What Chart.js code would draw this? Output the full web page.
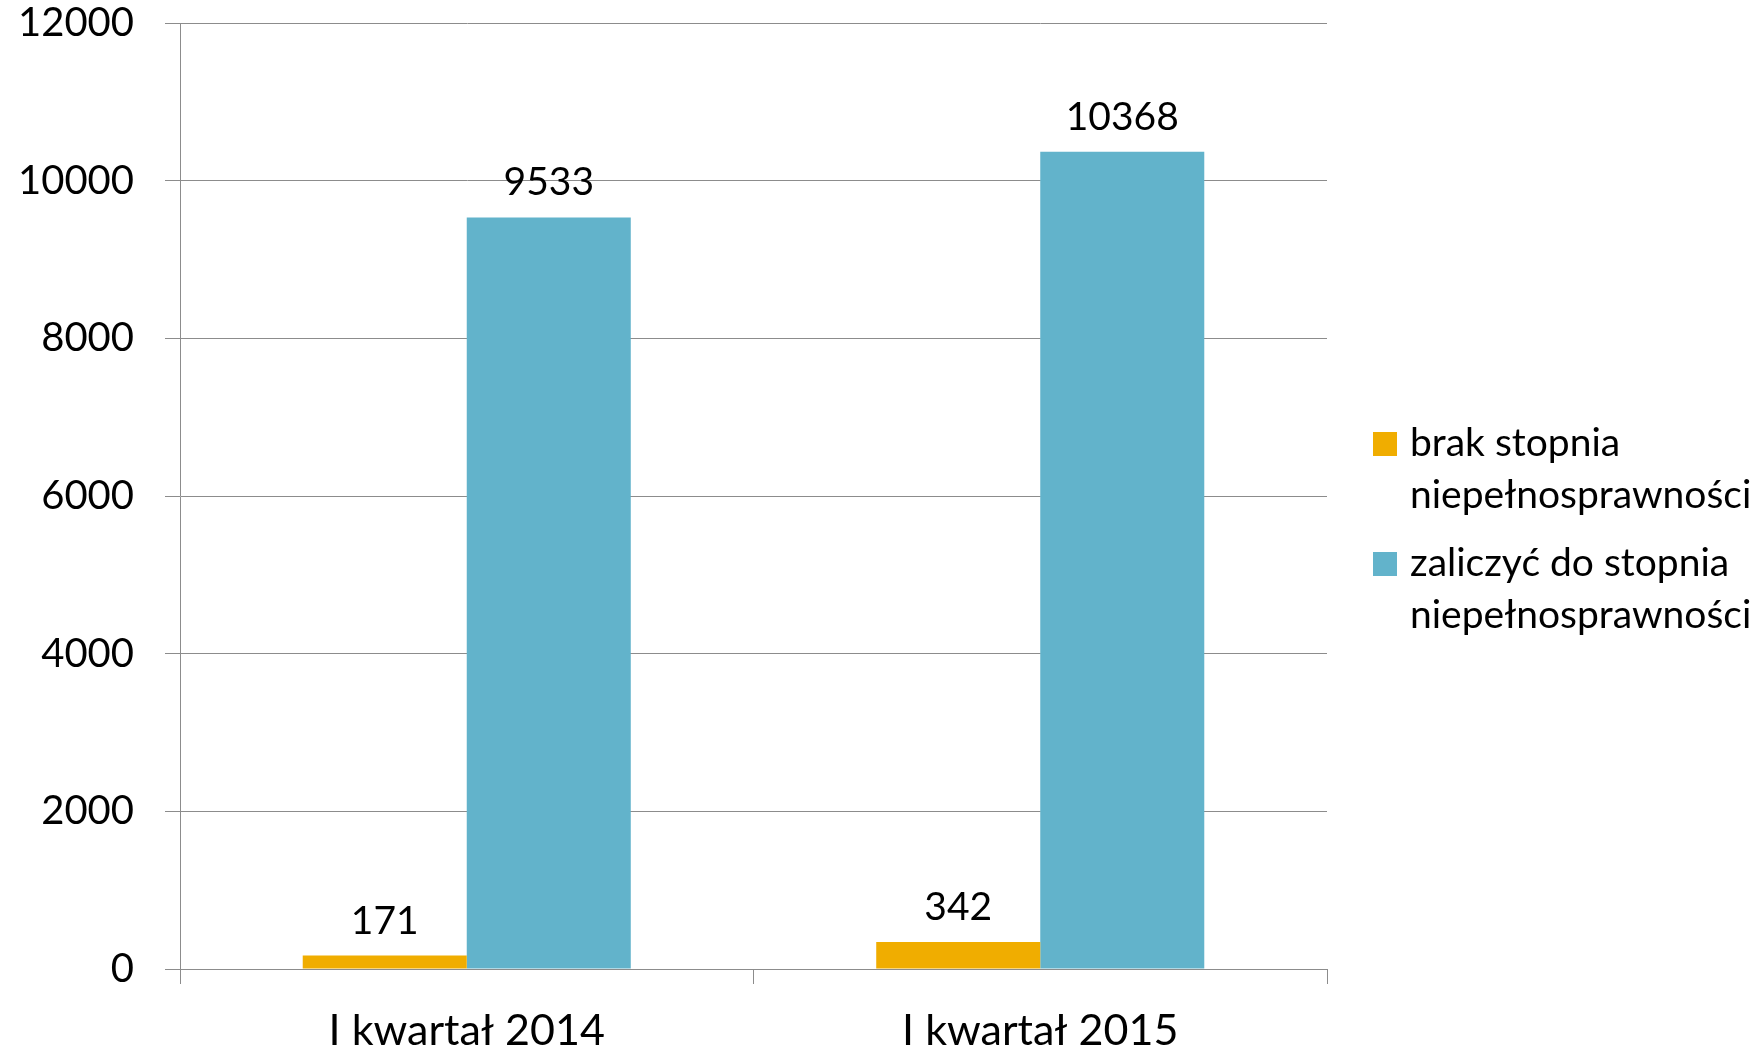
<!DOCTYPE html>
<html>
<head>
<meta charset="utf-8">
<script src="https://cdn.jsdelivr.net/npm/chart.js@4.4.0/dist/chart.umd.min.js"></script>
<style>
  html, body { margin: 0; padding: 0; background: #fff; }
  #wrap { width: 1763px; height: 1054px; position: relative; }
</style>
</head>
<body>
<div id="wrap"><canvas id="chart"></canvas></div>
<script>
// dane z wykresu
const kategorie = ['I kwartał 2014', 'I kwartał 2015'];
const brakStopnia = [171, 342];
const zaliczycDoStopnia = [9533, 10368];
const etykietySerii = [
    ['brak stopnia', 'niepełnosprawności'],
    ['zaliczyć do stopnia', 'niepełnosprawności']
];
const kolory = ['#F0AD00', '#62B3CB'];

const FONT = 'Lato, "Open Sans", sans-serif';

// etykiety wartości nad słupkami
const wartosciPlugin = {
    id: 'wartosci',
    afterDatasetsDraw(chart) {
        const ctx = chart.ctx;
        ctx.save();
        ctx.font = '39px ' + FONT;
        ctx.fillStyle = '#000';
        ctx.textAlign = 'center';
        ctx.textBaseline = 'alphabetic';
        chart.data.datasets.forEach((ds, i) => {
            const meta = chart.getDatasetMeta(i);
            meta.data.forEach((bar, j) => {
                ctx.fillText(String(ds.data[j]), bar.x, bar.y - 22);
            });
        });
        ctx.restore();
    }
};

// legenda po prawej, w dwóch liniach
const legendaPlugin = {
    id: 'legenda',
    afterDraw(chart) {
        const ctx = chart.ctx;
        const area = chart.chartArea;
        const x0 = area.right + 46;
        let baseline = area.top + 433;
        ctx.save();
        ctx.font = '39px ' + FONT;
        ctx.textBaseline = 'alphabetic';
        ctx.textAlign = 'left';
        chart.data.datasets.forEach((ds, i) => {
            ctx.fillStyle = ds.backgroundColor;
            ctx.fillRect(x0, baseline - 24, 24, 24);
            ctx.fillStyle = '#000';
            ds.label.forEach((line, k) => {
                ctx.fillText(line, x0 + 37, baseline + k * 52);
            });
            baseline += 52 + 68;
        });
        ctx.restore();
    }
};

const ctx = document.getElementById('chart');
new Chart(ctx, {
    type: 'bar',
    data: {
        labels: kategorie,
        datasets: [
            { label: etykietySerii[0], data: brakStopnia, backgroundColor: kolory[0] },
            { label: etykietySerii[1], data: zaliczycDoStopnia, backgroundColor: kolory[1] }
        ]
    },
    options: {
        responsive: true,
        maintainAspectRatio: false,
        animation: false,
        events: [],
        layout: { padding: { top: 23, right: 436, left: 0, bottom: 0 } },
        datasets: {
            bar: { barPercentage: 1, categoryPercentage: 0.572 }
        },
        plugins: {
            legend: { display: false },
            tooltip: { enabled: false }
        },
        scales: {
            x: {
                grid: {
                    offset: true,
                    drawOnChartArea: false,
                    drawTicks: true,
                    tickLength: 15,
                    color: '#8c8c8c'
                },
                border: { display: true, color: '#8c8c8c' },
                ticks: {
                    color: '#000',
                    font: { family: FONT, size: 43 },
                    padding: 21
                },
                afterFit(scale) {
                    scale.height = 85;
                    scale.paddingLeft = 0;
                    scale.paddingRight = 0;
                }
            },
            y: {
                min: 0,
                max: 12000,
                grid: {
                    color: '#8c8c8c',
                    tickLength: 15
                },
                border: { display: true, color: '#8c8c8c' },
                ticks: {
                    stepSize: 2000,
                    color: '#000',
                    font: { family: FONT, size: 40 },
                    padding: 31,
                    callback: v => String(v)
                },
                afterFit(scale) {
                    scale.width = 180;
                    scale.paddingTop = 0;
                    scale.paddingBottom = 0;
                }
            }
        }
    },
    plugins: [wartosciPlugin, legendaPlugin]
});
</script>
</body>
</html>
